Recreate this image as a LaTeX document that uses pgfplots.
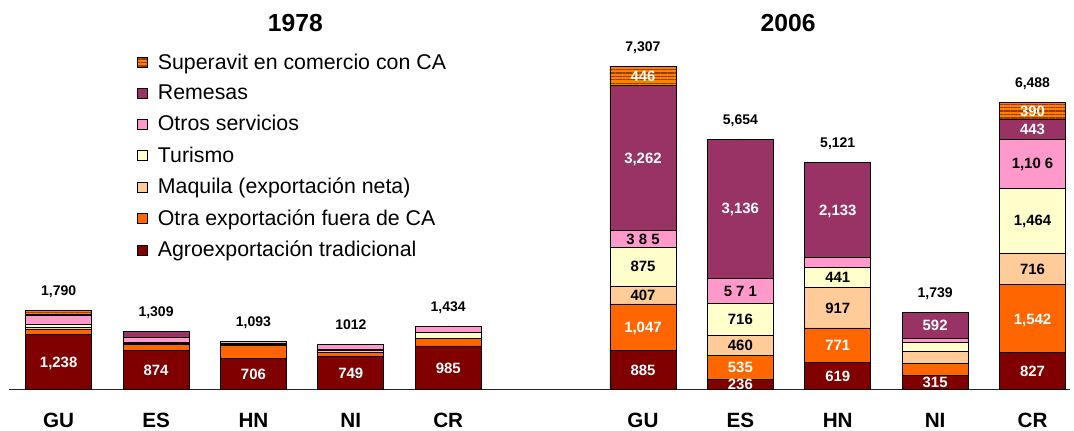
\documentclass[border=0pt]{standalone}
\usepackage{pgfplots}
\pgfplotsset{compat=1.18}
\usepackage{pgfplotstable}
\usetikzlibrary{patterns,patterns.meta}
\usepackage{fontspec}
\setmainfont{Liberation Sans}
\definecolor{cagro}{HTML}{800000}
\definecolor{cotra}{HTML}{FF6600}
\definecolor{cmaq}{HTML}{FFCC99}
\definecolor{ctur}{HTML}{FFFFCC}
\definecolor{cotros}{HTML}{FF99CC}
\definecolor{crem}{HTML}{993366}
\definecolor{csup}{HTML}{FF8000}
\definecolor{csupl}{HTML}{9A3C00}

\pgfplotstableread{
x agro otra maq tur otros rem sup
0 1238 127 40 60 215 25 85
1 874 135 25 25 120 130 0
2 706 285 30 30 42 0 0
3 749 93 35 35 100 0 0
4 985 171 0 135 143 0 0
6 885 1047 407 875 385 3262 446
7 236 535 460 716 571 3136 0
8 619 771 917 441 240 2133 0
9 315 270 277 200 85 592 0
10 827 1542 716 1464 1106 443 390
}\data

\pgfplotstableread[col sep=semicolon]{
x;y;l
0;619;1,238
1;437;874
2;353;706
3;374.5;749
4;492.5;985
6;442.5;885
7;118;236
8;309.5;619
9;157.5;315
10;413.5;827
6;1408.5;1,047
7;503.5;535
8;1004.5;771
10;1598;1,542
6;5230;3,262
7;4086;3,136
8;4054.5;2,133
9;1443;592
10;5876.5;443
6;7084;446
10;6293;390
}\wlab

\pgfplotstableread[col sep=semicolon]{
x;y;l
6;2135.5;407
7;1001;460
8;1848.5;917
10;2727;716
6;2776.5;875
7;1589;716
8;2527.5;441
10;3817;1,464
6;3406.5;3 8 5
7;2232.5;5 7 1
10;5102;1,10 6
}\blab

\pgfplotstableread[col sep=semicolon]{
x;y;l
0;1790;1,790
1;1309;1,309
2;1093;1,093
3;1012;1012
4;1434;1,434
6;7307;7,307
7;5654;5,654
8;5121;5,121
9;1739;1,739
10;6488;6,488
}\tot

\pgfplotsset{
  sq/.style={legend image code/.code={\draw[##1] (0pt,-3.75pt) rectangle (7.5pt,3.75pt);}},
  geom/.style={at={(6.75pt,30.375pt)}, anchor=south west, scale only axis,
    width=795.75pt, height=292.125pt,
    xmin=-0.510, xmax=10.385, ymin=0, ymax=8798},
}

\begin{document}
\begin{tikzpicture}
\begin{axis}[
  geom,
  ybar stacked, bar width=49.5pt,
  axis x line*=bottom, axis y line=none,
  x axis line style={-, line width=1.1pt, color=black!85},
  xtick={0,1,2,3,4,6,7,8,9,10},
  xticklabels={GU,ES,HN,NI,CR,GU,ES,HN,NI,CR},
  major tick length=0pt,
  xticklabel style={font=\bfseries\fontsize{15.5}{18}\selectfont, inner sep=0pt},
  xticklabel shift=17.6pt,
  clip=false,
  reverse legend,
  legend cell align=left,
  legend style={at={(0.1206,0.870)}, anchor=north west, draw=none, fill=none,
    inner sep=0pt, font=\fontsize{16}{18}\selectfont, row sep=6.4pt,
    /tikz/every odd column/.append style={column sep=5.4pt}},
]
\addplot[fill=cagro, draw=black, line width=0.6pt, sq] table[x=x,y=agro]{\data};
\addlegendentry{Agroexportación tradicional}
\addplot[fill=cotra, draw=black, line width=0.6pt, sq] table[x=x,y=otra]{\data};
\addlegendentry{Otra exportación fuera de CA}
\addplot[fill=cmaq, draw=black, line width=0.6pt, sq] table[x=x,y=maq]{\data};
\addlegendentry{Maquila (exportación neta)}
\addplot[fill=ctur, draw=black, line width=0.6pt, sq] table[x=x,y=tur]{\data};
\addlegendentry{Turismo}
\addplot[fill=cotros, draw=black, line width=0.6pt, sq] table[x=x,y=otros]{\data};
\addlegendentry{Otros servicios}
\addplot[fill=crem, draw=black, line width=0.6pt, sq] table[x=x,y=rem]{\data};
\addlegendentry{Remesas}
\addplot[fill=csup, draw=black, line width=0.6pt, sq,
  postaction={pattern={Lines[angle=0,distance=2.6pt,line width=0.9pt]}, pattern color=csupl}] table[x=x,y=sup]{\data};
\addlegendentry{Superavit en comercio con CA}
\node[font=\bfseries\fontsize{18.5}{22}\selectfont] at (axis cs:2.43,8280) {1978};
\node[font=\bfseries\fontsize{18.5}{22}\selectfont] at (axis cs:7.49,8280) {2006};
\end{axis}
\begin{axis}[
  geom, axis lines=none, clip=false,
  nodes near coords, point meta=explicit symbolic,
  every node near coord/.append style={anchor=center, inner sep=0pt,
    font=\bfseries\fontsize{11.2}{13}\selectfont, text height=8pt, text depth=0pt},
]
\addplot[only marks, mark=*, mark size=0.01pt, mark options={draw=none,fill=none},
  every node near coord/.append style={text=white}] table[x=x,y=y,meta=l]{\wlab};
\addplot[only marks, mark=*, mark size=0.01pt, mark options={draw=none,fill=none},
  every node near coord/.append style={text=black}] table[x=x,y=y,meta=l]{\blab};
\addplot[only marks, mark=*, mark size=0.01pt, mark options={draw=none,fill=none},
  every node near coord/.append style={text=black, font=\bfseries\fontsize{10.5}{12}\selectfont, text height=7.5pt, yshift=15pt}] table[x=x,y=y,meta=l]{\tot};
\end{axis}
\pgfresetboundingbox
\useasboundingbox (0,0) rectangle (805.5pt,322.5pt);
\end{tikzpicture}
\end{document}
